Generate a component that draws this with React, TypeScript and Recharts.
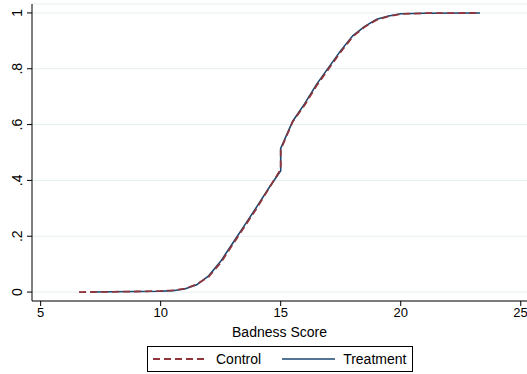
import { LineChart, Line, XAxis, YAxis, CartesianGrid, Label } from "recharts";

const controlX = [6.6, 8, 9, 10, 10.5, 11, 11.5, 12, 12.5, 13, 13.5, 14, 14.5, 15, 15, 15.5, 16, 16.5, 17, 17.5, 18, 18.5, 19, 19.5, 20, 21, 23.3];
const controlY = [0, 0.001, 0.002, 0.004, 0.006, 0.012, 0.028, 0.055, 0.105, 0.17, 0.235, 0.3, 0.37, 0.44, 0.51, 0.61, 0.67, 0.74, 0.8, 0.86, 0.915, 0.95, 0.975, 0.988, 0.996, 0.999, 1];
const treatX = [7.1, 8, 9, 10, 10.5, 11, 11.5, 12, 12.5, 13, 13.5, 14, 14.5, 15, 15, 15.5, 16, 16.5, 17, 17.5, 18, 18.5, 19, 19.5, 20, 21, 23.3];
const treatY = [0, 0.001, 0.002, 0.003, 0.005, 0.011, 0.026, 0.058, 0.11, 0.175, 0.24, 0.305, 0.372, 0.435, 0.515, 0.612, 0.675, 0.745, 0.805, 0.865, 0.918, 0.952, 0.977, 0.989, 0.997, 0.999, 1];

const xTicks = [5, 10, 15, 20, 25];
const yTicks = [0, 0.2, 0.4, 0.6, 0.8, 1];
const yTickLabels = ["0", ".2", ".4", ".6", ".8", "1"];

const RED = "#90353b";
const NAVY = "#1a476f";
const FONT = "'Liberation Sans', Arial, sans-serif";

const controlData = controlX.map((x, i) => ({ x, y: controlY[i] }));
const treatData = treatX.map((x, i) => ({ x, y: treatY[i] }));

function YTick(props: any) {
  const { x, y, payload } = props;
  const idx = yTicks.indexOf(payload.value);
  const tx = x - 3;
  return (
    <text
      x={tx}
      y={y}
      transform={`rotate(-90, ${tx}, ${y})`}
      textAnchor="middle"
      fontSize={14}
      fontFamily={FONT}
      fill="#000"
    >
      {idx >= 0 ? yTickLabels[idx] : payload.value}
    </text>
  );
}

export default function App() {
  return (
    <div style={{ position: "absolute", left: 0, top: 0, width: 527, height: 374, background: "#fff", fontFamily: FONT }}>
      <LineChart width={527} height={374} margin={{ top: 4, right: 0, bottom: 33, left: 0 }}>
        <CartesianGrid vertical={false} stroke="#e6eef1" strokeWidth={1} />
        <XAxis
          type="number"
          dataKey="x"
          domain={[4.64, 25.26]}
          ticks={xTicks}
          height={40}
          allowDataOverflow
          stroke="#000"
          tickSize={5}
          tick={{ fontSize: 13, fill: "#000", fontFamily: FONT }}
        >
          <Label value="Badness Score" position="insideBottom" offset={4} style={{ fontSize: 14, fill: "#000", fontFamily: FONT }} />
        </XAxis>
        <YAxis
          type="number"
          dataKey="y"
          domain={[-0.032, 1.032]}
          ticks={yTicks}
          width={32}
          allowDataOverflow
          stroke="#000"
          tickSize={5}
          tick={<YTick />}
        />
        <Line data={treatData} dataKey="y" type="linear" stroke={NAVY} strokeWidth={1.6} dot={false} isAnimationActive={false} />
        <Line data={controlData} dataKey="y" type="linear" stroke={RED} strokeWidth={1.8} strokeDasharray="7 4" dot={false} isAnimationActive={false} />
      </LineChart>
      <div
        style={{
          position: "absolute",
          left: 147,
          top: 346,
          width: 264,
          height: 24,
          border: "1px solid #000",
          background: "#fff",
          display: "flex",
          alignItems: "center",
          fontSize: 14,
          color: "#000",
        }}
      >
        <svg width={54} height={10} style={{ marginLeft: 5 }}>
          <line x1={0} y1={5} x2={54} y2={5} stroke={RED} strokeWidth={1.8} strokeDasharray="7 4" />
        </svg>
        <span style={{ marginLeft: 9 }}>Control</span>
        <svg width={53} height={10} style={{ marginLeft: 21 }}>
          <line x1={0} y1={5} x2={53} y2={5} stroke={NAVY} strokeWidth={1.6} />
        </svg>
        <span style={{ marginLeft: 8 }}>Treatment</span>
      </div>
    </div>
  );
}
